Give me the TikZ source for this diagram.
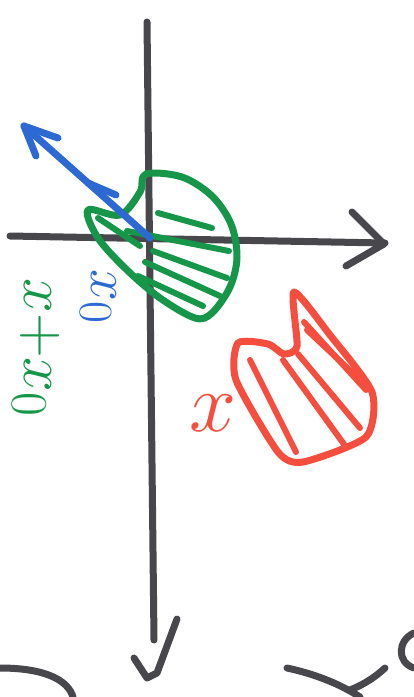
\documentclass[tikz,border=0pt]{standalone}
\usepackage{amsmath}
\usepackage{tikz}
\usepackage{color}

\definecolor{penblack}{RGB}{72,72,76}
\definecolor{pengreen}{RGB}{22,150,72}
\definecolor{penblue}{RGB}{45,105,210}
\definecolor{penred}{RGB}{245,78,62}

\begin{document}
\begin{tikzpicture}[x=1pt,y=-1pt,
    pen/.style={line width=7pt,line cap=round,line join=round},
    hatch/.style={pen,line width=6pt}]
  \useasboundingbox (0,0) rectangle (414,697);

  % Axes with hand drawn heads
  \draw[pen,penblack] (10,236) -- (385,243);
  \draw[pen,penblack] (352,212) -- (384,244) -- (346,266);
  \draw[pen,penblack] (147,22) -- (154,640);
  \draw[pen,penblack] (134,658) -- (147,678) -- (157,673) -- (177,619);

  % Green region around the origin
  \draw[pen,pengreen] plot[smooth cycle,tension=0.55] coordinates
    {(88,210) (120,215) (140,192) (146,174) (182,177) (212,196)
     (231,224) (237,257) (230,287) (212,313) (195,318) (160,298)
     (127,270) (98,238)};
  \draw[hatch,pengreen] (158,213) -- (212,228);
  \draw[hatch,pengreen] (127,231) -- (229,251);
  \draw[hatch,pengreen] (153,251) -- (227,278);
  \draw[hatch,pengreen] (145,262) -- (220,296);
  \draw[hatch,pengreen] (138,276) -- (203,306);
  \draw[hatch,pengreen] (98,218) -- (140,246);

  % Blue vector from the origin
  \draw[pen,penblue] (150,238) -- (24,126);
  \draw[pen,penblue] (58,138) -- (24,126) -- (36,156);
  \draw[pen,penblue] (88,183) -- (116,195);

  % Red region
  \draw[pen,penred] plot[smooth cycle,tension=0.4] coordinates
    {(238,343) (268,344) (284,354) (297,346) (294,292) (330,335)
     (372,392) (366,437) (303,462) (278,452) (236,380)};
  \draw[hatch,penred] (304,322) -- (366,390);
  \draw[hatch,penred] (250,360) -- (296,452);
  \draw[hatch,penred] (283,360) -- (346,447);
  \draw[hatch,penred] (298,354) -- (360,428);
  \draw[hatch,penred] (307,330) -- (357,377);

  % Labels
  \node[pengreen,rotate=-90,scale=2.5,inner sep=0pt] (lblshift) at (36,348)
    {\Huge$x{+}x_0$};
  \node[penblue,rotate=-90,scale=2.3,inner sep=0pt] (lblpoint) at (98,297)
    {\Huge$x_0$};
  \node[penred,scale=3.4] (lblred) at (213,413)
    {\Huge$x$};

  % Cut off strokes at the bottom edge
  \draw[pen,penblack] (0,668) .. controls (45,668) and (68,680) .. (73,697);
  \draw[pen,penblack] (287,668) .. controls (315,674) and (340,684) .. (360,697);
  \draw[pen,penblack] (385,668) .. controls (372,680) and (360,686) .. (350,690);
  \draw[pen,penblack] (414,633) .. controls (398,640) and (396,662) .. (414,668);
\end{tikzpicture}
\end{document}
